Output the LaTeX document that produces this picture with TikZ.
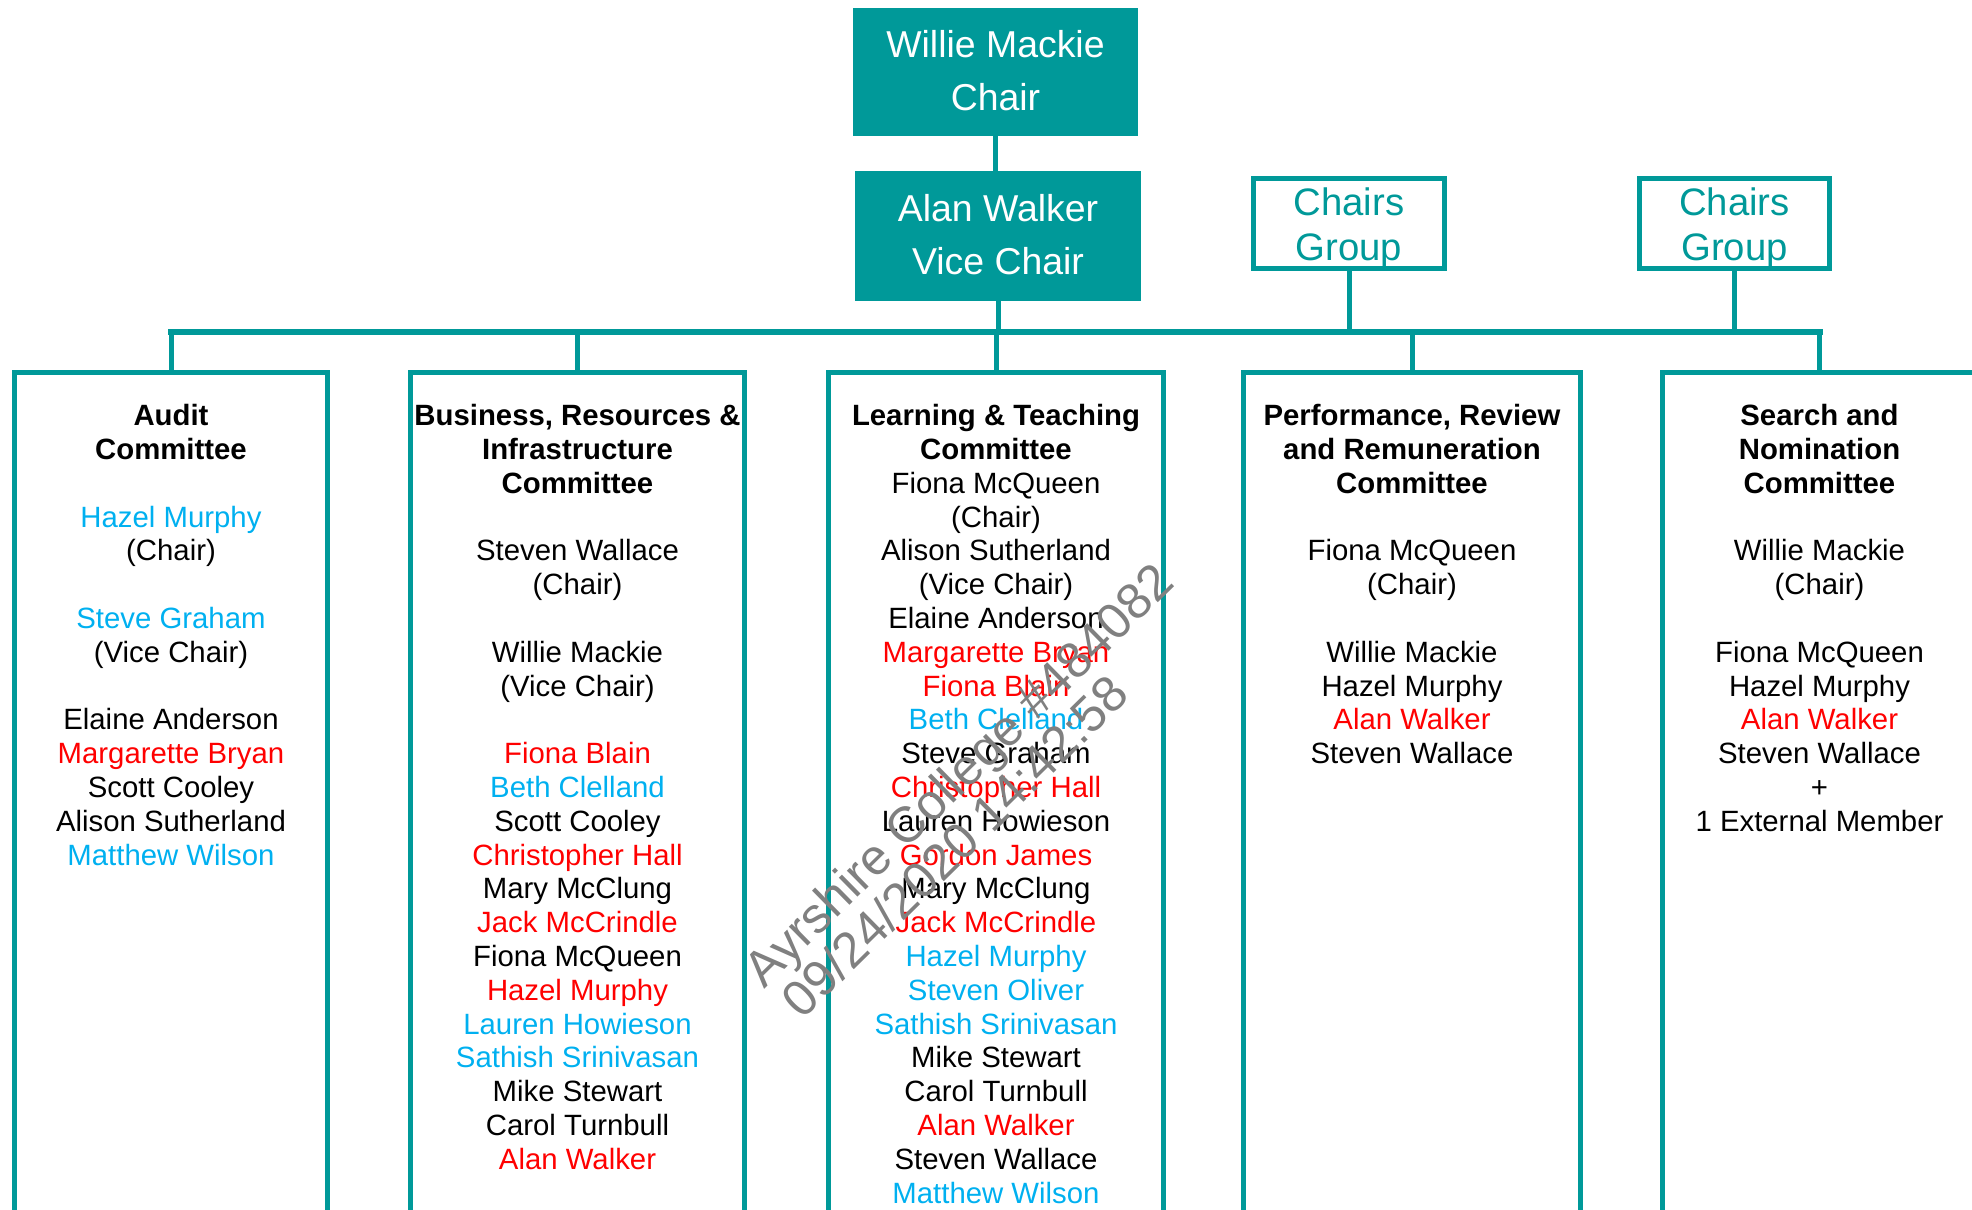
\documentclass[tikz,border=0pt]{standalone}
\usepackage{fontspec}
\setmainfont{Liberation Sans}
\usetikzlibrary{positioning}
\definecolor{boardteal}{RGB}{0,153,153}
\definecolor{memberblue}{RGB}{0,176,240}
\definecolor{memberred}{RGB}{255,0,0}
\definecolor{stampgrey}{RGB}{128,128,128}
\newcommand{\rmem}[1]{\textcolor{memberred}{#1}}
\newcommand{\bmem}[1]{\textcolor{memberblue}{#1}}
\newcommand{\linetop}{\rule{0pt}{12.5pt}}
\newcommand{\grouptop}{\rule{0pt}{20.5pt}}
\newcommand{\officerfoot}{\rule[-1.8pt]{0pt}{1.8pt}}
\begin{document}
\begin{tikzpicture}[
        x=0.02cm, y=-0.02cm,
        line width=0.1cm
    ]
    \tikzset{
        officer/.style = {rectangle, fill=boardteal, text=white, align=center, inner sep=0pt, outer sep=0pt, font=\fontsize{21.3}{30.7}\selectfont},
        chairsgroup/.style = {rectangle, draw=boardteal, text=boardteal, align=center, inner sep=0pt, outer sep=0pt, minimum width=3.82cm, minimum height=1.8cm, font=\fontsize{21.8}{25.6}\selectfont},
        committee/.style = {rectangle, draw=boardteal, anchor=north, outer sep=0pt, minimum height=20cm},
        members/.style = {anchor=north, align=center, inner sep=0pt, font=\fontsize{16.7}{19.24}\selectfont},
        link/.style = {draw=boardteal},
        bus/.style = {draw=boardteal, line width=0.12cm, line cap=rect},
        stamp/.style = {anchor=base west, rotate=44.5, inner sep=0pt, text=stampgrey, font=\fontsize{28.6}{32}\selectfont},
    }
    \useasboundingbox (0,0) rectangle (1972,1210);
    \clip (0,0) rectangle (1972,1210);

    \node[officer, minimum width=5.7cm, minimum height=2.58cm] (chair) at (995.5,72) {Willie Mackie\\Chair\officerfoot};
    \node[officer, minimum width=5.72cm, minimum height=2.6cm] (vicechair) at (998,236) {Alan Walker\\Vice Chair\officerfoot};
    \node[chairsgroup] (chairsA) at (1349,223.5) {\grouptop Chairs\\Group};
    \node[chairsgroup] (chairsB) at (1734.5,223.5) {\grouptop Chairs\\Group};

    \coordinate (bus) at (0,332);

    \node[committee, minimum width=6.26cm] (audit) at (171,372.5) {};
    \node[committee, minimum width=6.68cm] (business) at (577.5,372.5) {};
    \node[committee, minimum width=6.72cm] (learning) at (996,372.5) {};
    \node[committee, minimum width=6.73cm] (performance) at (1412,372.5) {};
    \node[committee, minimum width=6.28cm] (search) at (1819.5,372.5) {};

    \draw[link] (chair.south) -- (chair.south |- vicechair.north);
    \draw[link] (vicechair.south) -- (vicechair.south |- bus);
    \draw[link] (chairsA.south) -- (chairsA.south |- bus);
    \draw[link] (chairsB.south) -- (chairsB.south |- bus);
    \draw[bus] (audit.north |- bus) -- (search.north |- bus);
    \foreach \c in {audit,business,learning,performance,search}
        \draw[link] (\c.north |- bus) -- (\c.north);

    \node[members, below=0.575cm of audit.north] (auditlist) {\linetop\textbf{Audit}\\
        \textbf{Committee}\\[\baselineskip]
        \bmem{Hazel Murphy}\\
        (Chair)\\[\baselineskip]
        \bmem{Steve Graham}\\
        (Vice Chair)\\[\baselineskip]
        Elaine Anderson\\
        \rmem{Margarette Bryan}\\
        Scott Cooley\\
        Alison Sutherland\\
        \bmem{Matthew Wilson}};
    \node[members, below=0.575cm of business.north] (businesslist) {\linetop\textbf{Business, Resources \&}\\
        \textbf{Infrastructure}\\
        \textbf{Committee}\\[\baselineskip]
        Steven Wallace\\
        (Chair)\\[\baselineskip]
        Willie Mackie\\
        (Vice Chair)\\[\baselineskip]
        \rmem{Fiona Blain}\\
        \bmem{Beth Clelland}\\
        Scott Cooley\\
        \rmem{Christopher Hall}\\
        Mary McClung\\
        \rmem{Jack McCrindle}\\
        Fiona McQueen\\
        \rmem{Hazel Murphy}\\
        \bmem{Lauren Howieson}\\
        \bmem{Sathish Srinivasan}\\
        Mike Stewart\\
        Carol Turnbull\\
        \rmem{Alan Walker}};
    \node[members, below=0.575cm of learning.north] (learninglist) {\linetop\textbf{Learning \& Teaching}\\
        \textbf{Committee}\\
        Fiona McQueen\\
        (Chair)\\
        Alison Sutherland\\
        (Vice Chair)\\
        Elaine Anderson\\
        \rmem{Margarette Bryan}\\
        \rmem{Fiona Blain}\\
        \bmem{Beth Clelland}\\
        Steve Graham\\
        \rmem{Christopher Hall}\\
        Lauren Howieson\\
        \rmem{Gordon James}\\
        Mary McClung\\
        \rmem{Jack McCrindle}\\
        \bmem{Hazel Murphy}\\
        \bmem{Steven Oliver}\\
        \bmem{Sathish Srinivasan}\\
        Mike Stewart\\
        Carol Turnbull\\
        \rmem{Alan Walker}\\
        Steven Wallace\\
        \bmem{Matthew Wilson}};
    \node[members, below=0.575cm of performance.north] (performancelist) {\linetop\textbf{Performance, Review}\\
        \textbf{and Remuneration}\\
        \textbf{Committee}\\[\baselineskip]
        Fiona McQueen\\
        (Chair)\\[\baselineskip]
        Willie Mackie\\
        Hazel Murphy\\
        \rmem{Alan Walker}\\
        Steven Wallace};
    \node[members, below=0.575cm of search.north] (searchlist) {\linetop\textbf{Search and}\\
        \textbf{Nomination}\\
        \textbf{Committee}\\[\baselineskip]
        Willie Mackie\\
        (Chair)\\[\baselineskip]
        Fiona McQueen\\
        Hazel Murphy\\
        \rmem{Alan Walker}\\
        Steven Wallace\\
        +\\
        1 External Member};

    \node[stamp] (stampA) at (763,991) {Ayrshire College \#484082};
    \node[stamp] (stampB) at (801,1022) {09/24/2020 14:42:58};
\end{tikzpicture}
\end{document}
